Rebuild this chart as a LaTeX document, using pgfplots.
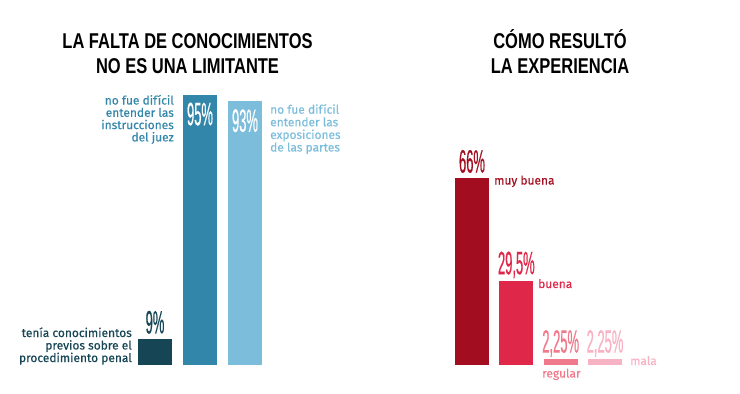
\documentclass[border=0pt]{standalone}
\usepackage{pgfplots}
\pgfplotsset{compat=1.18}
\usepackage{fontspec}
\setmainfont[FakeBold=0.4]{Fira Sans}
\newfontfamily\titlefont[FakeStretch=0.77]{Liberation Sans}
\newfontfamily\numfont[FakeStretch=0.40,FakeBold=0.4]{Liberation Sans}
\definecolor{tealdark}{HTML}{164555}
\definecolor{tealmid}{HTML}{3286AA}
\definecolor{teallight}{HTML}{7BBDDB}
\definecolor{reddark}{HTML}{A20E20}
\definecolor{redmid}{HTML}{DF2849}
\definecolor{redlight}{HTML}{F07A8B}
\definecolor{redpale}{HTML}{F7B2C4}
\begin{document}
\begin{tikzpicture}[x=1bp,y=1bp,
  ttl/.style={font={\titlefont\bfseries\fontsize{21.5}{21.5}\selectfont}, anchor=base, inner sep=0pt},
  num/.style={font={\numfont\fontsize{32.5}{32.5}\selectfont}, anchor=base, inner sep=0pt},
  lbl/.style={font={\fontsize{12}{12}\selectfont}, inner sep=0pt}]
\pgfplotsset{chart/.style={anchor=south west, scale only axis, height=284bp,
  ymin=0, ymax=100, hide axis, ybar, bar width=34bp, bar shift=0pt, clip=false}}
% left chart
\begin{axis}[chart, at={(110bp,28bp)}, width=180bp, xmin=-1, xmax=3]
\addplot[fill=tealdark, draw=none] coordinates {(0,9)};
\addplot[fill=tealmid, draw=none] coordinates {(1,95)};
\addplot[fill=teallight, draw=none] coordinates {(2,93)};
\node[num, text=tealdark, yshift=6bp] at (axis cs:0,9) {9\%};
\node[num, text=white, yshift=-30bp] at (axis cs:1,95) {95\%};
\node[num, text=white, yshift=-31bp] at (axis cs:2,93) {93\%};
\end{axis}
% right chart
\begin{axis}[chart, at={(427.67bp,28bp)}, width=221.67bp, xmin=-1, xmax=4]
\addplot[fill=reddark, draw=none] coordinates {(0,66)};
\addplot[fill=redmid, draw=none] coordinates {(1,29.5)};
\addplot[fill=redlight, draw=none] coordinates {(2,2.25)};
\addplot[fill=redpale, draw=none] coordinates {(3,2.25)};
\node[num, text=reddark, yshift=5bp] at (axis cs:0,66) {66\%};
\node[num, text=redmid, yshift=7bp] at (axis cs:1,29.5) {29,5\%};
\node[num, text=redlight, yshift=6bp] at (axis cs:2,2.25) {2,25\%};
\node[num, text=redpale, yshift=6bp] at (axis cs:3,2.25) {2,25\%};
\end{axis}
% titles
\node[ttl] at (187.5,345) {LA FALTA DE CONOCIMIENTOS};
\node[ttl] at (187.5,320) {NO ES UNA LIMITANTE};
\node[ttl] at (560,345) {CÓMO RESULTÓ};
\node[ttl] at (560,320) {LA EXPERIENCIA};
% left labels
\begin{scope}[every node/.style={lbl, anchor=base east, text=tealmid}]
\node at (174,288.5) {no fue difícil};
\node at (174,276.2) {entender las};
\node at (174,263.9) {instrucciones};
\node at (174,251.6) {del juez};
\end{scope}
\begin{scope}[every node/.style={lbl, anchor=base west, text=teallight}]
\node at (270,279.3) {no fue difícil};
\node at (270,266.7) {entender las};
\node at (270,254.1) {exposiciones};
\node at (270,241.5) {de las partes};
\end{scope}
\begin{scope}[every node/.style={lbl, anchor=base east, text=tealdark}]
\node at (132,56) {tenía conocimientos};
\node at (132,43.5) {previos sobre el};
\node at (132,31) {procedimiento penal};
\end{scope}
% right labels
\node[lbl, anchor=base west, text=reddark] at (494,208.5) {muy buena};
\node[lbl, anchor=base west, text=redmid] at (538,105) {buena};
\node[lbl, anchor=base west, text=redlight] at (542,15.5) {regular};
\node[lbl, anchor=base west, text=redpale] at (630,28) {mala};
\pgfresetboundingbox
\path[use as bounding box] (0,0) rectangle (740,393);
\end{tikzpicture}
\end{document}
